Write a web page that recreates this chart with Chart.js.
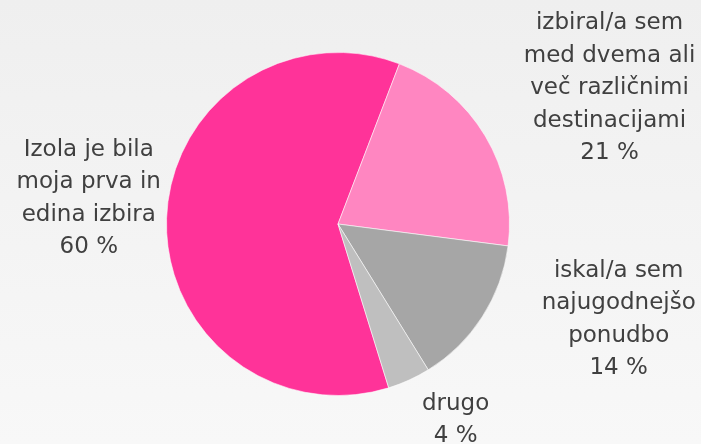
<!DOCTYPE html>
<html>
<head>
<meta charset="utf-8">
<script src="https://cdn.jsdelivr.net/npm/chart.js@4"></script>
<style>
  html, body { margin: 0; padding: 0; background: #f3f3f3; }
  #wrap { width: 701px; height: 444px; position: relative; }
</style>
</head>
<body>
<div id="wrap"><canvas id="c" width="701" height="444"></canvas></div>
<script>
// Survey answers: how the destination was chosen
const categories = [
  ['Izola je bila', 'moja prva in', 'edina izbira'],
  ['izbiral/a sem', 'med dvema ali', 'več različnimi', 'destinacijami'],
  ['iskal/a sem', 'najugodnejšo', 'ponudbo'],
  ['drugo']
];
const shares = [60, 21, 14, 4];
const sliceColors = ['#ff3399', '#ff86c1', '#a6a6a6', '#bfbfbf'];

// Label placement around each slice: angular nudge (deg) and gap beyond the rim (px)
const labelPlacement = [
  { shift: 3.9, gap: 79 },
  { shift: 4.3, gap: 132 },
  { shift: -14, gap: 125 },
  { shift: -6.5, gap: 57 }
];

const FONT = '23px "DejaVu Sans", Verdana, sans-serif';
const LINE_H = 32.5;

const backdrop = {
  id: 'backdrop',
  beforeDraw(chart) {
    const { ctx, width, height } = chart;
    const g = ctx.createLinearGradient(0, 0, 0, height);
    g.addColorStop(0, '#efefef');
    g.addColorStop(1, '#f8f8f8');
    ctx.save();
    ctx.fillStyle = g;
    ctx.fillRect(0, 0, width, height);
    ctx.restore();
  }
};

const sliceLabels = {
  id: 'sliceLabels',
  afterDatasetsDraw(chart) {
    const { ctx } = chart;
    const meta = chart.getDatasetMeta(0);
    const values = chart.data.datasets[0].data;
    ctx.save();
    ctx.font = FONT;
    ctx.fillStyle = '#404040';
    ctx.textAlign = 'center';
    ctx.textBaseline = 'middle';
    meta.data.forEach((arc, i) => {
      const { x, y, startAngle, endAngle, outerRadius } = arc.getProps(['x', 'y', 'startAngle', 'endAngle', 'outerRadius'], true);
      const p = labelPlacement[i];
      const mid = (startAngle + endAngle) / 2 + p.shift * Math.PI / 180;
      const r = outerRadius + p.gap;
      const cx = x + Math.cos(mid) * r;
      const cy = y + Math.sin(mid) * r;
      const lines = categories[i].concat([values[i] + ' %']);
      const top = cy - (lines.length - 1) * LINE_H / 2;
      lines.forEach((t, k) => ctx.fillText(t, cx, top + k * LINE_H));
    });
    ctx.restore();
  }
};

new Chart(document.getElementById('c'), {
  type: 'pie',
  data: {
    labels: categories.map(l => l.join(' ')),
    datasets: [{
      data: shares,
      backgroundColor: sliceColors,
      borderColor: 'rgba(255,255,255,0.55)',
      borderWidth: 1,
      hoverOffset: 0
    }]
  },
  options: {
    responsive: false,
    animation: false,
    rotation: 162.8,
    layout: { padding: { left: 166, right: 191, top: 52, bottom: 48 } },
    plugins: {
      legend: { display: false },
      tooltip: { enabled: false }
    }
  },
  plugins: [backdrop, sliceLabels]
});
</script>
</body>
</html>
